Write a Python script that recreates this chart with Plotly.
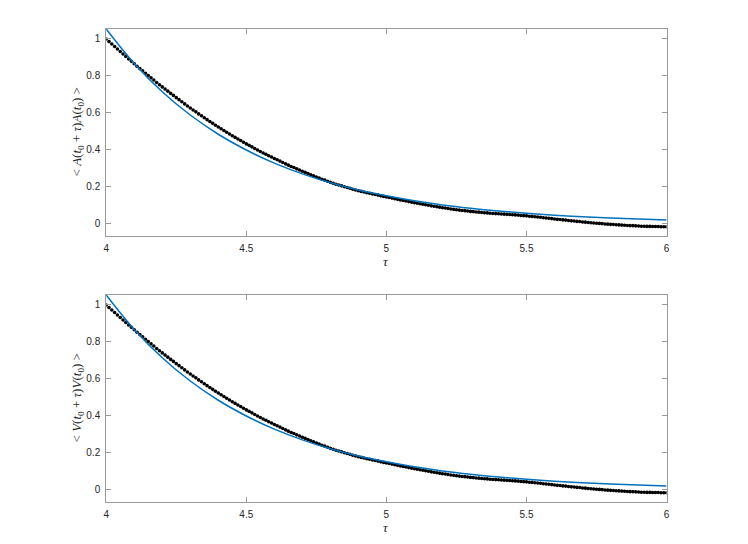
import numpy as np
import plotly.graph_objects as go

# ---- data ----
tau = np.linspace(4, 6, 201)

acf_A = [
    1.000, 0.986, 0.973, 0.959, 0.946,
    0.932, 0.919, 0.906, 0.892, 0.879,
    0.866, 0.853, 0.840, 0.828, 0.815,
    0.802, 0.790, 0.778, 0.765, 0.753,
    0.741, 0.729, 0.718, 0.706, 0.695,
    0.683, 0.672, 0.661, 0.649, 0.638,
    0.627, 0.616, 0.606, 0.595, 0.585,
    0.574, 0.564, 0.554, 0.544, 0.534,
    0.524, 0.515, 0.505, 0.496, 0.486,
    0.477, 0.468, 0.459, 0.451, 0.442,
    0.433, 0.425, 0.417, 0.408, 0.400,
    0.392, 0.384, 0.377, 0.369, 0.362,
    0.354, 0.347, 0.340, 0.332, 0.325,
    0.318, 0.311, 0.305, 0.298, 0.292,
    0.285, 0.279, 0.273, 0.266, 0.260,
    0.254, 0.248, 0.242, 0.237, 0.231,
    0.225, 0.220, 0.215, 0.211, 0.206,
    0.201, 0.197, 0.193, 0.188, 0.184,
    0.180, 0.176, 0.173, 0.169, 0.166,
    0.162, 0.159, 0.156, 0.152, 0.149,
    0.146, 0.143, 0.140, 0.136, 0.133,
    0.130, 0.127, 0.124, 0.121, 0.118,
    0.115, 0.112, 0.109, 0.107, 0.104,
    0.101, 0.098, 0.096, 0.093, 0.091,
    0.088, 0.086, 0.084, 0.081, 0.079,
    0.077, 0.075, 0.073, 0.072, 0.070,
    0.068, 0.067, 0.065, 0.064, 0.062,
    0.061, 0.060, 0.058, 0.057, 0.056,
    0.055, 0.054, 0.053, 0.052, 0.051,
    0.050, 0.049, 0.048, 0.046, 0.045,
    0.044, 0.042, 0.041, 0.039, 0.038,
    0.036, 0.034, 0.032, 0.031, 0.029,
    0.027, 0.025, 0.024, 0.022, 0.021,
    0.019, 0.017, 0.016, 0.014, 0.013,
    0.011, 0.010, 0.008, 0.007, 0.005,
    0.004, 0.003, 0.002, 0.000, -0.001,
    -0.002, -0.003, -0.004, -0.005, -0.006,
    -0.007, -0.008, -0.009, -0.009, -0.010,
    -0.011, -0.012, -0.012, -0.013, -0.013,
    -0.014, -0.014, -0.014, -0.015, -0.015,
    -0.015,
]
acf_V = list(acf_A)

tau_fit = [4.0, 4.1, 4.2, 4.3, 4.4, 4.5, 4.6, 4.7, 4.8, 4.9, 5.0,
           5.1, 5.2, 5.3, 5.4, 5.5, 5.6, 5.7, 5.8, 5.9, 6.0]
fit_A = [1.054, 0.868, 0.715, 0.589, 0.485, 0.400, 0.329, 0.271, 0.223, 0.184, 0.152,
         0.125, 0.103, 0.085, 0.070, 0.0575, 0.0473, 0.039, 0.032, 0.0265, 0.0218]
fit_V = list(fit_A)

x_ticks = [4, 4.5, 5, 5.5, 6]
x_tick_labels = ["4", "4.5", "5", "5.5", "6"]
y_ticks = [0, 0.2, 0.4, 0.6, 0.8, 1]
y_tick_labels = ["0", "0.2", "0.4", "0.6", "0.8", "1"]

ylabel_top = "&lt; <i>A</i>(<i>t</i><sub>0</sub> + <i>τ</i>)<i>A</i>(<i>t</i><sub>0</sub>) &gt;"
ylabel_bot = "&lt; <i>V</i>(<i>t</i><sub>0</sub> + <i>τ</i>)<i>V</i>(<i>t</i><sub>0</sub>) &gt;"
xlabel = "<i>τ</i>"

# ---- figure ----
OFF = 8          # page body margin
W, H = 732, 528  # figure size (fits inside 748x544 window with body margin)
BLUE = "#0072BD"
AX = "#9a9a9a"
TXT = "#262626"


def px_x(p):
    return (p - OFF) / W


def px_y(p):
    return 1 - (p - OFF) / H


fig = go.Figure()
for i, (acf, fit) in enumerate([(acf_A, fit_A), (acf_V, fit_V)]):
    xa = "x" if i == 0 else "x2"
    ya = "y" if i == 0 else "y2"
    fig.add_trace(go.Scatter(x=tau, y=acf, mode="markers",
                             marker=dict(color="black", size=3.6, line=dict(width=0)),
                             xaxis=xa, yaxis=ya, showlegend=False))
    fig.add_trace(go.Scatter(x=tau_fit, y=fit, mode="lines", line_shape="spline",
                             line=dict(color=BLUE, width=1.5),
                             xaxis=xa, yaxis=ya, showlegend=False))

x0, x1 = px_x(104), px_x(669)
dom_top = [px_y(236), px_y(29)]
dom_bot = [px_y(502), px_y(295)]


def xaxis(anchor):
    return dict(domain=[x0, x1], range=[4, 6], tickvals=x_ticks, ticktext=x_tick_labels,
                ticks="inside", ticklen=5, tickcolor=AX, showline=True, linecolor=AX,
                linewidth=1, mirror="ticks", showgrid=False, zeroline=False,
                tickfont=dict(family="Liberation Sans, Arial", size=10, color=TXT),
                anchor=anchor, ticklabelstandoff=3)


def yaxis(domain, anchor):
    return dict(domain=domain, range=[-0.065, 1.054], tickvals=y_ticks, ticktext=y_tick_labels,
                ticks="inside", ticklen=5, tickcolor=AX, showline=True, linecolor=AX,
                linewidth=1, mirror="ticks", showgrid=False, zeroline=False,
                tickfont=dict(family="Liberation Sans, Arial", size=10, color=TXT),
                anchor=anchor, ticklabelstandoff=3)


fig.update_layout(
    width=W, height=H,
    margin=dict(l=0, r=0, t=0, b=0),
    paper_bgcolor="white", plot_bgcolor="white",
    xaxis=xaxis("y"), yaxis=yaxis(dom_top, "x"),
    xaxis2=xaxis("y2"), yaxis2=yaxis(dom_bot, "x2"),
)

serif = dict(family="Liberation Serif, DejaVu Serif, serif", size=13, color=TXT)
annots = [
    dict(text=ylabel_top, x=px_x(75), y=px_y(132), textangle=-90),
    dict(text=ylabel_bot, x=px_x(75), y=px_y(398), textangle=-90),
    dict(text=xlabel, x=px_x(386), y=px_y(261), textangle=0),
    dict(text=xlabel, x=px_x(386), y=px_y(527), textangle=0),
]
for a in annots:
    fig.add_annotation(xref="paper", yref="paper", showarrow=False,
                       xanchor="center", yanchor="middle", font=serif, **a)

fig.write_html("out.html")
